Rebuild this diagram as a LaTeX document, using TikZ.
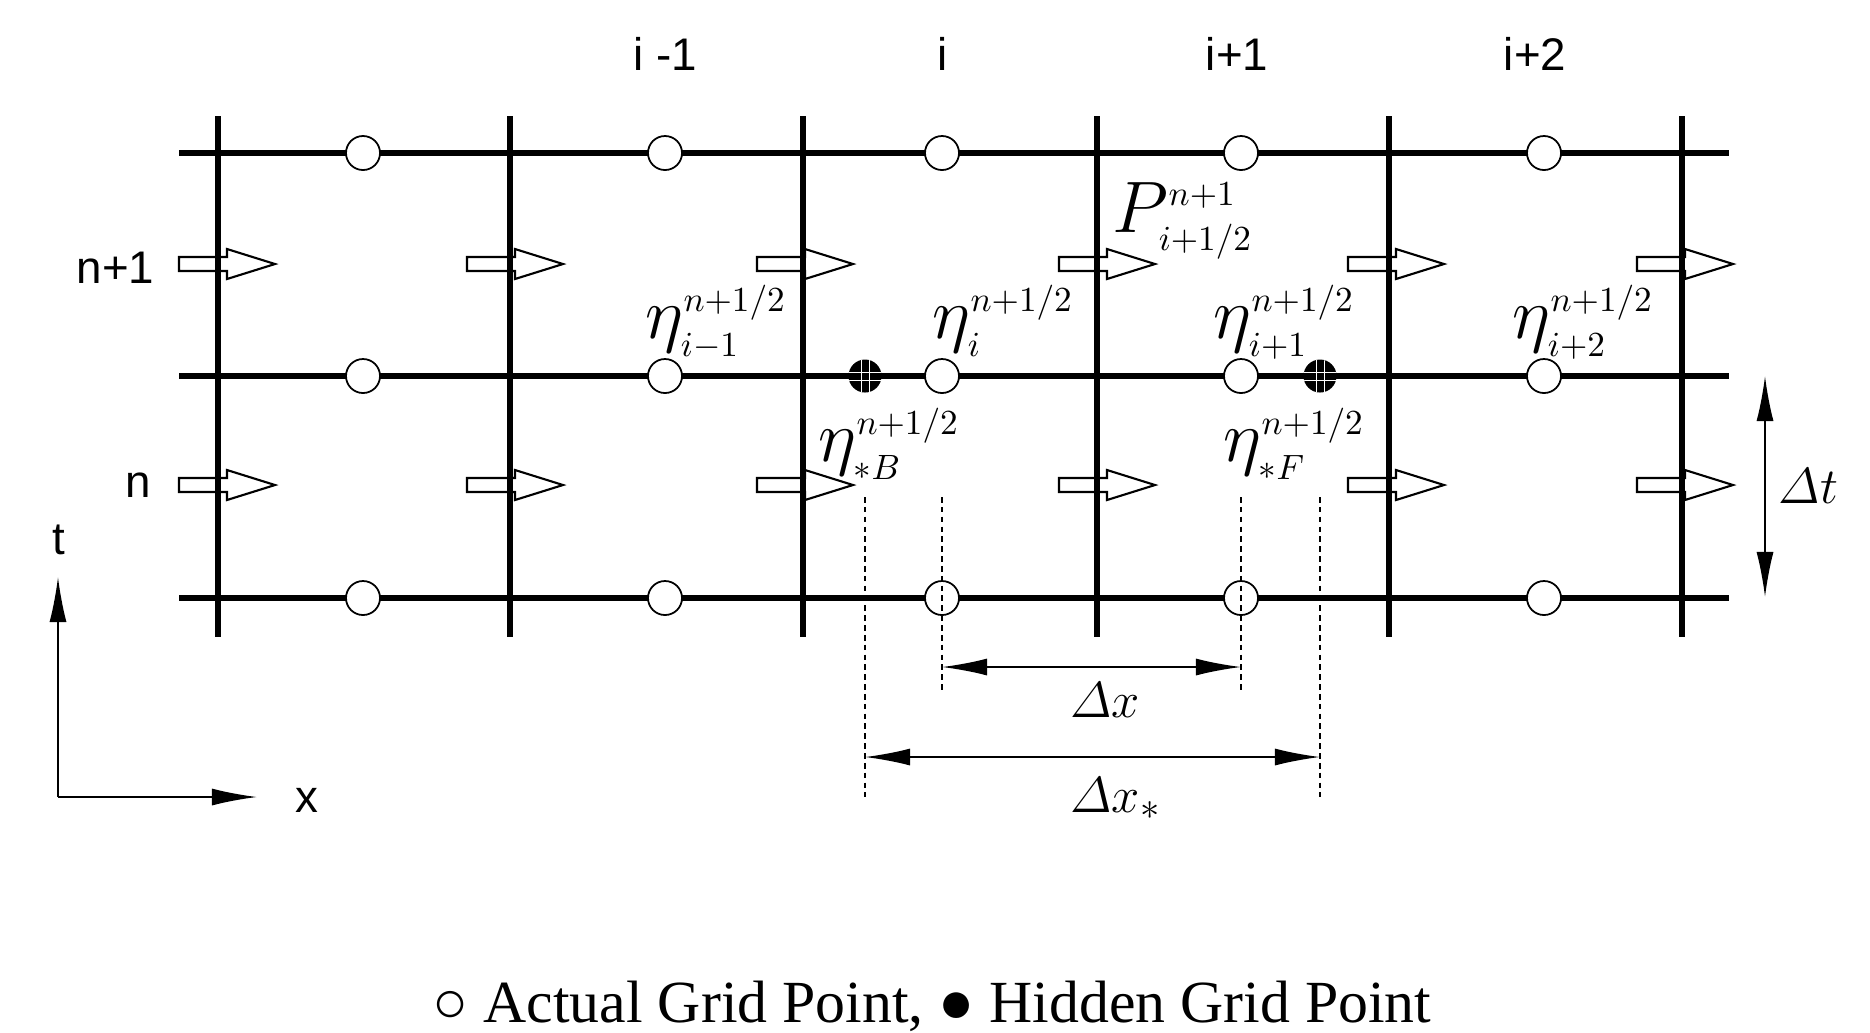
\documentclass[tikz,border=0pt]{standalone}
\usepackage{amsmath}
\usepackage[no-math]{fontspec}
\setmainfont{Liberation Serif}
\newfontfamily\idxfont{Liberation Sans}
\usetikzlibrary{arrows.meta}

% small script text set apart from the big symbol
\newcommand{\sct}[1]{\mbox{\fontsize{10}{10}\selectfont$#1$}}

\tikzset{
  gridline/.style={line width=1.5pt},
  actualpt/.style={circle,draw,fill=white,line width=0.5pt,minimum size=0.34cm,inner sep=0pt},
  hiddenpt/.style={circle,fill=black,minimum size=0.33cm,inner sep=0pt,
    path picture={
      \draw[white,line width=0.45pt]
        ([shift={(-0.17cm,0.035cm)}]path picture bounding box.center) -- ++(0.34cm,0)
        ([shift={(-0.17cm,-0.045cm)}]path picture bounding box.center) -- ++(0.34cm,0)
        ([shift={(-0.035cm,-0.17cm)}]path picture bounding box.center) -- ++(0,0.34cm)
        ([shift={(0.045cm,-0.17cm)}]path picture bounding box.center) -- ++(0,0.34cm);}},
  dimline/.style={line width=0.5pt,{Latex[length=0.45cm,width=0.17cm]}-{Latex[length=0.45cm,width=0.17cm]}},
  guide/.style={line width=0.5pt,dash pattern=on 1.6pt off 1.2pt},
  idxlabel/.style={font=\idxfont\fontsize{13}{13}\selectfont,inner sep=0pt},
  etalabel/.style={anchor=base west,inner sep=0pt,font=\fontsize{22}{22}\selectfont},
  dlabel/.style={anchor=base west,inner sep=0pt,font=\fontsize{15}{15}\selectfont},
  flowarrow/.pic={
    \draw[fill=white,line width=0.6pt] (0,-7) -- (48,-7) -- (48,-15) -- (96,0)
      -- (48,15) -- (48,7) -- (0,7) -- cycle;}
}

\begin{document}
\begin{tikzpicture}[x=0.01cm,y=-0.01cm]
  \useasboundingbox (0,0) rectangle (1870,1032);

  % flow arrows at the half levels
  \foreach \y in {264,485}
    \foreach \x in {179,467,757,1059,1348,1637}
      \pic at (\x,\y) {flowarrow};

  % grid
  \foreach \y in {153,376,598}
    \draw[gridline] (179,\y) -- (1729,\y);
  \foreach \x in {218,510,803,1097,1389,1682}
    \draw[gridline] (\x,116) -- (\x,637);

  % grid points
  \foreach \y [count=\r] in {153,376,598}
    \foreach \x [count=\c] in {363,665,942,1241,1544}
      \node[actualpt] (p\r-\c) at (\x,\y) {};
  \node[hiddenpt] (hB) at (865,376) {};
  \node[hiddenpt] (hF) at (1320,376) {};

  % index labels
  \node[idxlabel] (im1) at (665,54) {i -1};
  \node[idxlabel] (i0) at (943,54) {i};
  \node[idxlabel] (ip1) at (1237,54) {i+1};
  \node[idxlabel] (ip2) at (1535,54) {i+2};
  \node[idxlabel,anchor=east] (np1) at (155,268) {n+1};
  \node[idxlabel,anchor=east] (n0) at (152,485) {n};

  % unknowns
  \node[etalabel] (etaim1) at (645,338) {$\eta^{\sct{n{+}1/2}}_{\sct{i{-}1}}$};
  \node[etalabel] (etai) at (932,338) {$\eta^{\sct{n{+}1/2}}_{\sct{i}}$};
  \node[etalabel] (etaip1) at (1213,338) {$\eta^{\sct{n{+}1/2}}_{\sct{i{+}1}}$};
  \node[etalabel] (etaip2) at (1512,338) {$\eta^{\sct{n{+}1/2}}_{\sct{i{+}2}}$};
  \node[etalabel] (etaB) at (818,461) {$\eta^{\sct{n{+}1/2}}_{\sct{*B}}$};
  \node[etalabel] (etaF) at (1223,461) {$\eta^{\sct{n{+}1/2}}_{\sct{*F}}$};
  \node[etalabel,font=\fontsize{20}{20}\selectfont] (P) at (1112,232) {$P^{\sct{n{+}1}}_{\sct{i{+}1/2}}$};

  % guides and spacings
  \draw[guide] (hB |- 0,497) -- (hB |- 0,797);
  \draw[guide] (hF |- 0,497) -- (hF |- 0,797);
  \draw[guide] (p3-3 |- 0,497) -- (p3-3 |- 0,692);
  \draw[guide] (p3-4 |- 0,497) -- (p3-4 |- 0,692);
  \coordinate (dxL) at (p3-3 |- 0,667);
  \coordinate (dxR) at (p3-4 |- 0,667);
  \coordinate (dsL) at (hB |- 0,757);
  \coordinate (dsR) at (hF |- 0,757);
  \draw[dimline] (dxL) -- (dxR);
  \draw[dimline] (dsL) -- (dsR);
  \node[dlabel] (dx) at (1070,717) {$\varDelta x$};
  \node[dlabel] (ds) at (1070,812) {$\varDelta x_{*}$};
  \coordinate (dtT) at (1765,376);
  \coordinate (dtB) at (1765,597);
  \draw[dimline] (dtT) -- (dtB);
  \node[dlabel] (dt) at (1778,503) {$\varDelta t$};

  % axes
  \coordinate (o) at (58,797);
  \draw[line width=0.5pt,-{Latex[length=0.45cm,width=0.17cm]}] (o) -- (58,577);
  \draw[line width=0.5pt,-{Latex[length=0.45cm,width=0.17cm]}] (o) -- (257,797);
  \node[idxlabel] (tlab) at (59,540) {t};
  \node[idxlabel] (xlab) at (307,800) {x};

  % legend
  \node[anchor=base,inner sep=0pt,font=\fontsize{17}{17}\selectfont] (legend) at (932,1022)
    {○ Actual Grid Point, ● Hidden Grid Point};
\end{tikzpicture}
\end{document}
